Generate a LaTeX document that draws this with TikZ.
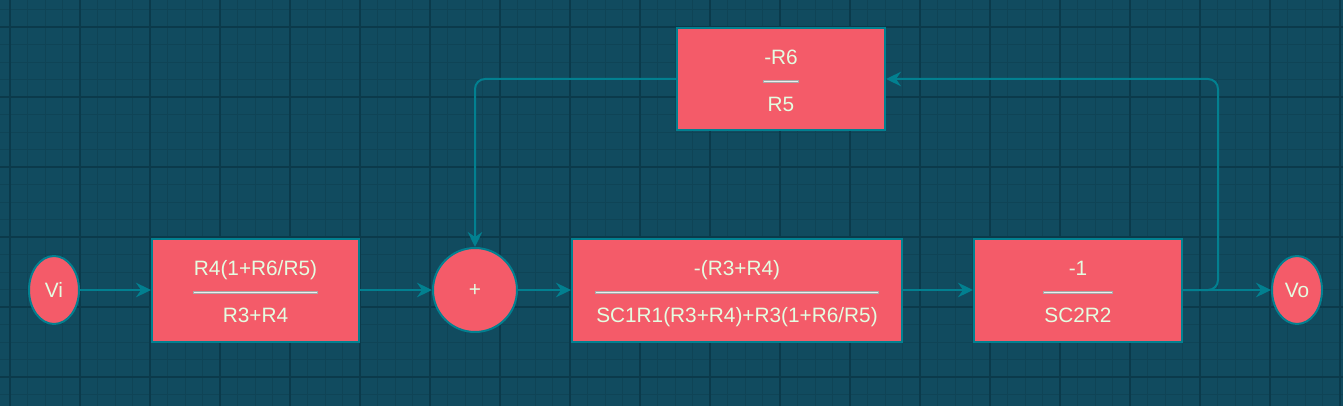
\documentclass[tikz,border=0pt]{standalone}
\usepackage{fontspec}
\setmainfont{Liberation Sans}
\usepackage{xcolor}
\usetikzlibrary{arrows.meta,positioning,shapes.geometric}
\definecolor{canvas}{HTML}{114B5F}
\definecolor{gridminor}{HTML}{0F4456}
\definecolor{gridmajor}{HTML}{0B3A4B}
\definecolor{blockfill}{HTML}{F45B69}
\definecolor{blockedge}{HTML}{028090}
\definecolor{blocktext}{HTML}{E4FDE1}
\definecolor{baredge}{HTML}{A8A8A8}
\definecolor{barface}{HTML}{EDEDED}
\newlength{\ratiow}
% numerator over a bar over denominator, bar as wide as the wider text
\newcommand{\ratio}[2]{%
  \setbox0\hbox{#1}\global\ratiow=\wd0
  \setbox0\hbox{#2}\ifdim\wd0>\ratiow\global\ratiow=\wd0\fi
  \rule{0pt}{23pt}#1\\
  \makebox[\dimexpr\ratiow+2pt\relax][l]{%
    \rlap{\color{baredge}\rule[5.1pt]{\dimexpr\ratiow+2pt\relax}{3.4pt}}%
    \hspace{.6pt}{\color{barface}\rule[5.9pt]{\dimexpr\ratiow+0.8pt\relax}{1.6pt}}}\\
  \rule[-4.5pt]{0pt}{4.5pt}#2}

\begin{document}
\begin{tikzpicture}[x=1pt, y=-1pt, font=\fontsize{20.8}{23.5}\selectfont,
  block/.style={draw=blockedge, line width=2pt, fill=blockfill, text=blocktext,
                minimum width=207pt, minimum height=103pt, align=center, inner sep=0pt},
  port/.style={ellipse, draw=blockedge, line width=2pt, fill=blockfill, text=blocktext,
               minimum width=50pt, minimum height=68pt, inner sep=0pt},
  junction/.style={circle, draw=blockedge, line width=2pt, fill=blockfill, text=blocktext,
                   minimum size=84pt, inner sep=0pt},
  link/.style={draw=blockedge, line width=2pt,
               -{Stealth[length=15pt, width=14.5pt, inset=5pt]}},
  minorline/.style={draw=gridminor, line width=0.8pt},
  majorline/.style={draw=gridmajor, line width=1.2pt}]
  \useasboundingbox (0,0) rectangle (1343,406);
  \fill[canvas] (0,0) rectangle (1343,406);
  % grid
  \foreach \gx in {10,27.5,...,1340} \draw[minorline] (\gx,0) -- (\gx,406);
  \foreach \gy in {9.5,27,...,405} \draw[minorline] (0,\gy) -- (1343,\gy);
  \foreach \gx in {10,80,...,1340} \draw[majorline] (\gx,0) -- (\gx,406);
  \foreach \gy in {27,97,...,405} \draw[majorline] (0,\gy) -- (1343,\gy);

  \node (vi) [port] at (54,290) {Vi};
  \node (pre) [block, right=71pt of vi] {\ratio{R4(1+R6/R5)}{R3+R4}};
  \node (sum) [junction, right=72pt of pre] {+};
  \node (fwd) [block, minimum width=330pt, right=53pt of sum]
    {\ratio{-(R3+R4)}{SC1R1(R3+R4)+R3(1+R6/R5)}};
  \node (integ) [block, minimum width=208pt, right=70pt of fwd] {\ratio{-1}{SC2R2}};
  \node (vo) [port, right=88pt of integ] {Vo};
  \node (fb) [block, minimum width=208pt, minimum height=102pt] at (781,79) {\ratio{-R6}{R5}};
  \coordinate (fbturn) at (1218,79);

  \draw[link] (vi) -- (pre);
  \draw[link] (pre) -- (sum);
  \draw[link] (sum) -- (fwd);
  \draw[link] (fwd) -- (integ);
  \draw[link] (integ) -- (vo);
  \draw[link, rounded corners=10pt] (integ.east) -| (fbturn) -- (fb.east);
  \draw[link, rounded corners=10pt] (fb.west) -| (sum.north);
\end{tikzpicture}
\end{document}
